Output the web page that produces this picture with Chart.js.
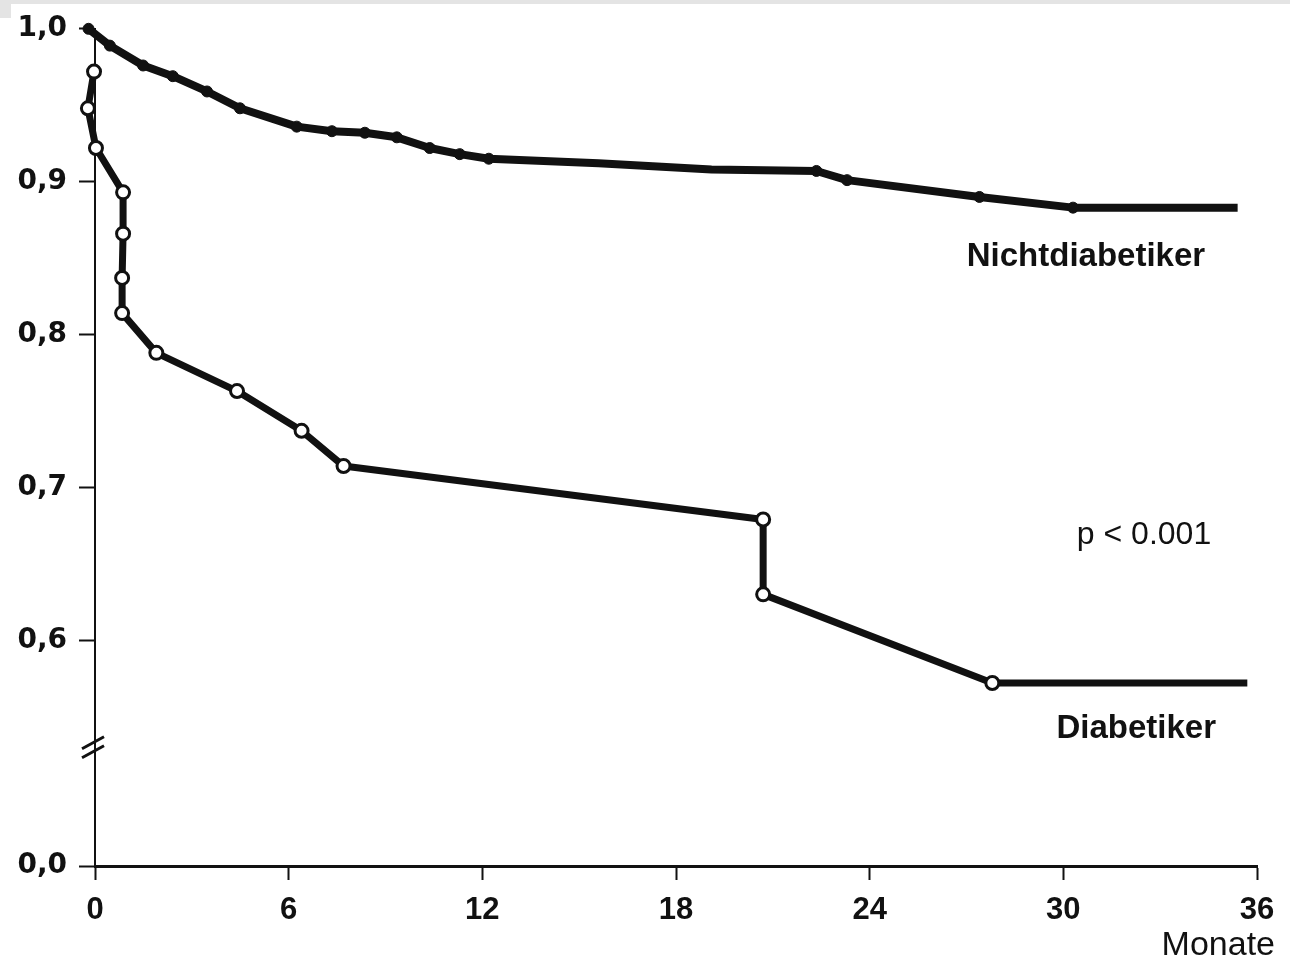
<!DOCTYPE html>
<html>
<head>
<meta charset="utf-8">
<script src="https://cdn.jsdelivr.net/npm/chart.js@4.4.1/dist/chart.umd.min.js"></script>
<style>
  body { margin: 0; background: #fff; }
  #wrap { position: relative; width: 1290px; height: 964px; }
  .scan-edge { position: absolute; left: 0; top: 0; width: 1290px; height: 4px; background: #e4e4e4; }
  .scan-corner { position: absolute; left: 0; top: 0; width: 11px; height: 18px; background: #e4e4e4; }
</style>
</head>
<body>
<div id="wrap">
  <canvas id="survivalChart" width="1290" height="964"></canvas>
  <div class="scan-edge"></div>
  <div class="scan-corner"></div>
</div>
<script>
// Kaplan-Meier curves, months vs. survival fraction
const nonDiabMonths   = [-0.2, 0.46, 1.49, 2.41, 3.47, 4.49, 6.25, 7.34, 8.36, 9.35, 10.37, 11.3, 12.2, 15.6, 19.1, 22.35, 23.3, 27.4, 30.3, 35.4];
const nonDiabSurvival = [1.0, 0.989, 0.976, 0.969, 0.959, 0.948, 0.936, 0.933, 0.932, 0.929, 0.922, 0.918, 0.915, 0.912, 0.908, 0.907, 0.901, 0.890, 0.883, 0.883];

const diabMonths   = [-0.03, -0.22, 0.03, 0.87, 0.87, 0.84, 0.84, 1.9, 4.4, 6.4, 7.7, 20.7, 20.7, 27.8, 35.7];
const diabSurvival = [0.972, 0.948, 0.922, 0.893, 0.866, 0.837, 0.814, 0.788, 0.763, 0.737, 0.714, 0.679, 0.630, 0.572, 0.572];

const xTicks = [0, 6, 12, 18, 24, 30, 36];
const yTicks = [0.6, 0.7, 0.8, 0.9, 1.0];
// the axis is broken: everything below this value is squeezed into the "0,0" stretch
const yFloor = 0.4523;
const yBreak = 0.531;

const labelNonDiab = 'Nichtdiabetiker';
const labelDiab = 'Diabetiker';
const labelP = 'p < 0.001';
const labelMonths = 'Monate';

function toPoints(xs, ys) {
    return xs.map((x, i) => ({ x: x, y: ys[i] }));
}

const ink = '#111';

// markers only where the scan shows them
const nonDiabRadius = nonDiabMonths.map((m, i) => (i === nonDiabMonths.length - 1 || (m > 13 && m < 22)) ? 0 : 5.5);
const diabRadius = diabMonths.map((m, i) => i === diabMonths.length - 1 ? 0 : 6.5);

const annotations = {
    id: 'annotations',
    afterDraw(chart) {
        const ctx = chart.ctx;
        const xs = chart.scales.x;
        const ys = chart.scales.y;
        ctx.save();
        ctx.fillStyle = ink;
        ctx.textAlign = 'center';
        ctx.textBaseline = 'middle';

        ctx.font = 'bold 33px "Liberation Sans", Arial, sans-serif';
        ctx.fillText(labelNonDiab, xs.getPixelForValue(30.7), ys.getPixelForValue(0.851));
        ctx.fillText(labelDiab, xs.getPixelForValue(32.26), ys.getPixelForValue(0.542));

        ctx.font = '32px "Liberation Sans", Arial, sans-serif';
        ctx.fillText(labelP, xs.getPixelForValue(32.5), ys.getPixelForValue(0.669));

        ctx.textAlign = 'right';
        ctx.font = '34px "Liberation Sans", Arial, sans-serif';
        ctx.fillText(labelMonths, chart.chartArea.right + 18, chart.chartArea.bottom + 80);

        // axis break marks
        const bx = xs.left - 2;
        const by = ys.getPixelForValue(yBreak);
        ctx.strokeStyle = ink;
        ctx.lineWidth = 3;
        ctx.beginPath();
        ctx.moveTo(bx - 11, by + 3);
        ctx.lineTo(bx + 11, by - 9);
        ctx.moveTo(bx - 11, by + 12);
        ctx.lineTo(bx + 11, by);
        ctx.stroke();
        ctx.restore();
    }
};

new Chart(document.getElementById('survivalChart'), {
    type: 'scatter',
    data: {
        datasets: [
            {
                label: labelNonDiab,
                data: toPoints(nonDiabMonths, nonDiabSurvival),
                showLine: true,
                borderColor: ink,
                borderWidth: 8,
                borderJoinStyle: 'round',
                pointRadius: nonDiabRadius,
                pointBackgroundColor: ink,
                pointBorderColor: ink,
                pointBorderWidth: 1,
                clip: false
            },
            {
                label: labelDiab,
                data: toPoints(diabMonths, diabSurvival),
                showLine: true,
                borderColor: ink,
                borderWidth: 7,
                borderJoinStyle: 'round',
                pointRadius: diabRadius,
                pointBackgroundColor: '#fff',
                pointBorderColor: ink,
                pointBorderWidth: 3,
                clip: false
            }
        ]
    },
    options: {
        responsive: false,
        animation: false,
        layout: { padding: { left: 0, top: 28, right: 33, bottom: 0 } },
        plugins: {
            legend: { display: false },
            tooltip: { enabled: false }
        },
        scales: {
            x: {
                type: 'linear',
                min: 0,
                max: 36,
                afterBuildTicks: (scale) => { scale.ticks = xTicks.map(v => ({ value: v })); },
                afterFit: (scale) => { scale.height = 98; },
                border: { color: ink, width: 3 },
                grid: { drawOnChartArea: false, color: ink, tickLength: 14, tickWidth: 2 },
                ticks: {
                    color: ink,
                    padding: 12,
                    maxRotation: 0,
                    font: { family: '"Liberation Sans", Arial, sans-serif', size: 31, weight: 'bold' }
                }
            },
            y: {
                type: 'linear',
                min: yFloor,
                max: 1.0,
                afterBuildTicks: (scale) => {
                    scale.ticks = [yFloor].concat(yTicks).map(v => ({ value: v }));
                },
                afterFit: (scale) => { scale.width = 95; },
                border: { color: ink, width: 2 },
                grid: { drawOnChartArea: false, color: ink, tickLength: 16, tickWidth: 2 },
                ticks: {
                    color: ink,
                    padding: 12,
                    font: { family: '"DejaVu Sans", sans-serif', size: 28, weight: 'bold' },
                    callback: (v) => v === yFloor ? '0,0' : v.toFixed(1).replace('.', ',')
                }
            }
        }
    },
    plugins: [annotations]
});
</script>
</body>
</html>
